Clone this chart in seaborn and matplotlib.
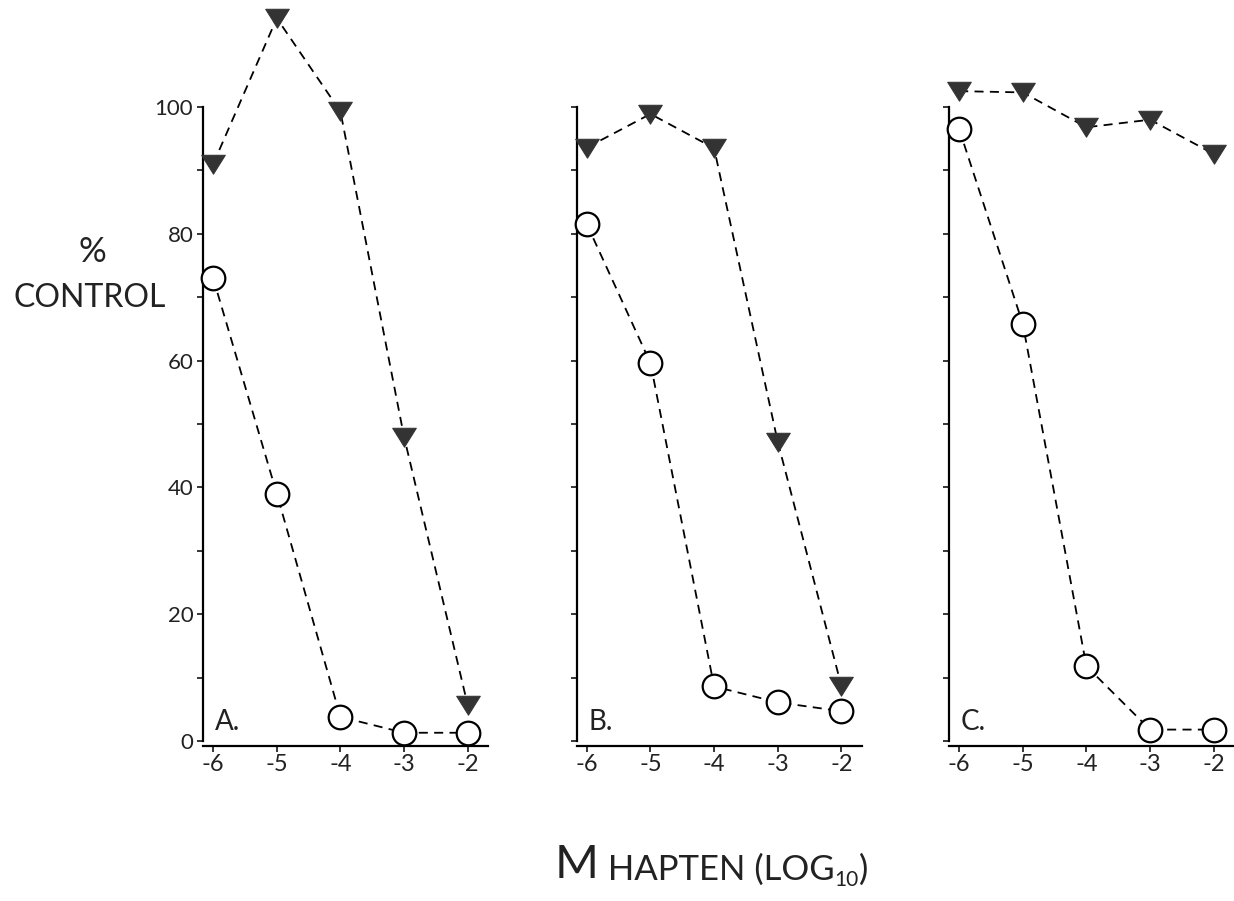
import numpy as np
import pandas as pd
import seaborn as sns
import matplotlib.pyplot as plt

# log10 molar hapten concentration
log_hapten = [-6, -5, -4, -3, -2]
x_labels = ['-6', '-5', '-4', '-3', '-2']
panels = ['A.', 'B.', 'C.']

# % of control
tri_A = [91, 114, 99.3, 48, 5.7]
circ_A = [73, 39, 3.8, 1.3, 1.3]
tri_B = [93.6, 98.9, 93.5, 47.2, 8.7]
circ_B = [81.5, 59.6, 8.6, 6.1, 4.7]
tri_C = [102.5, 102.3, 96.8, 98.0, 92.6]
circ_C = [96.5, 65.8, 11.8, 1.8, 1.8]

y_major = [0, 20, 40, 60, 80, 100]
y_minor = [10, 30, 50, 70, 90]

sns.set_style('ticks')
plt.rcParams['font.family'] = ['Lato', 'DejaVu Sans']
plt.rcParams['axes.unicode_minus'] = False

fig = plt.figure(figsize=(12.34, 9.01), dpi=100)

W, H = 1234, 901
ax_w = 285 / W
ax_b = (H - 746) / H
ax_h = 746 / H
lefts = [203 / W, 576.7 / W, 949 / W]

tri_all = [tri_A, tri_B, tri_C]
circ_all = [circ_A, circ_B, circ_C]

# flat downward triangle
tri_marker = [(-1, 0.78), (1, 0.78), (0, -0.82), (-1, 0.78)]
ink = '#222222'

for i in range(3):
    ax = fig.add_axes([lefts[i], ax_b, ax_w, ax_h])
    df = pd.DataFrame({'x': log_hapten, 'tri': tri_all[i], 'circ': circ_all[i]})

    sns.lineplot(data=df, x='x', y='tri', ax=ax, color='black', lw=1.3,
                 linestyle=(0, (5, 3.5)), marker=tri_marker, markersize=17,
                 markerfacecolor='#333333', markeredgecolor='#333333',
                 clip_on=False, zorder=3)
    sns.lineplot(data=df, x='x', y='circ', ax=ax, color='black', lw=1.3,
                 linestyle=(0, (5, 3.5)), marker='o', markersize=17,
                 markerfacecolor='white', markeredgecolor='black',
                 markeredgewidth=1.6, clip_on=False, zorder=4)

    ax.set_xlim(-6.16, -1.68)
    ax.set_ylim(-5 / 6.34, 741 / 6.34)
    ax.spines['top'].set_visible(False)
    ax.spines['right'].set_visible(False)
    ax.spines['left'].set_bounds(0, 100)
    for s in ['left', 'bottom']:
        ax.spines[s].set_linewidth(1.6)
        ax.spines[s].set_color('black')

    ax.set_xticks(log_hapten)
    ax.set_xticklabels(x_labels)
    ax.set_yticks(y_major)
    ax.set_yticks(y_minor, minor=True)
    if i == 0:
        ax.set_yticklabels([str(v) for v in y_major])
    else:
        ax.set_yticklabels([])
    ax.tick_params(axis='both', which='both', direction='out', length=4,
                   width=1.1, color='black', labelsize=16, labelcolor=ink, pad=2)
    ax.tick_params(axis='x', which='major', labelsize=17)
    ax.tick_params(axis='y', which='major', pad=3)
    ax.set_xlabel('')
    ax.set_ylabel('')
    ax.patch.set_alpha(0)

    ax.text(0.042, 0.022, panels[i], transform=ax.transAxes, fontsize=20,
            ha='left', va='baseline', color=ink)

# y axis title
fig.text(92 / W, 1 - 252 / H, '%', fontsize=25, ha='center', va='center', color=ink)
fig.text(90 / W, 1 - 298 / H, 'CONTROL', fontsize=23, ha='center', va='center', color=ink)

# x axis title, small caps with subscript
ax0 = fig.axes[0]
t1 = fig.text(555 / W, 1 - 878 / H, 'M', fontsize=34, ha='left', va='baseline', color=ink)
a2 = ax0.annotate(' HAPTEN (LOG', xy=(1, 0), xycoords=t1, fontsize=25,
                  ha='left', va='bottom', color=ink, annotation_clip=False)
a3 = ax0.annotate('10', xy=(1, 0), xycoords=a2, xytext=(0, -3),
                  textcoords='offset points', fontsize=15,
                  ha='left', va='bottom', color=ink, annotation_clip=False)
a4 = ax0.annotate(')', xy=(1, 0), xycoords=a3, xytext=(0, 3),
                  textcoords='offset points', fontsize=25,
                  ha='left', va='bottom', color=ink, annotation_clip=False)

fig.savefig('out.png', dpi=100)
